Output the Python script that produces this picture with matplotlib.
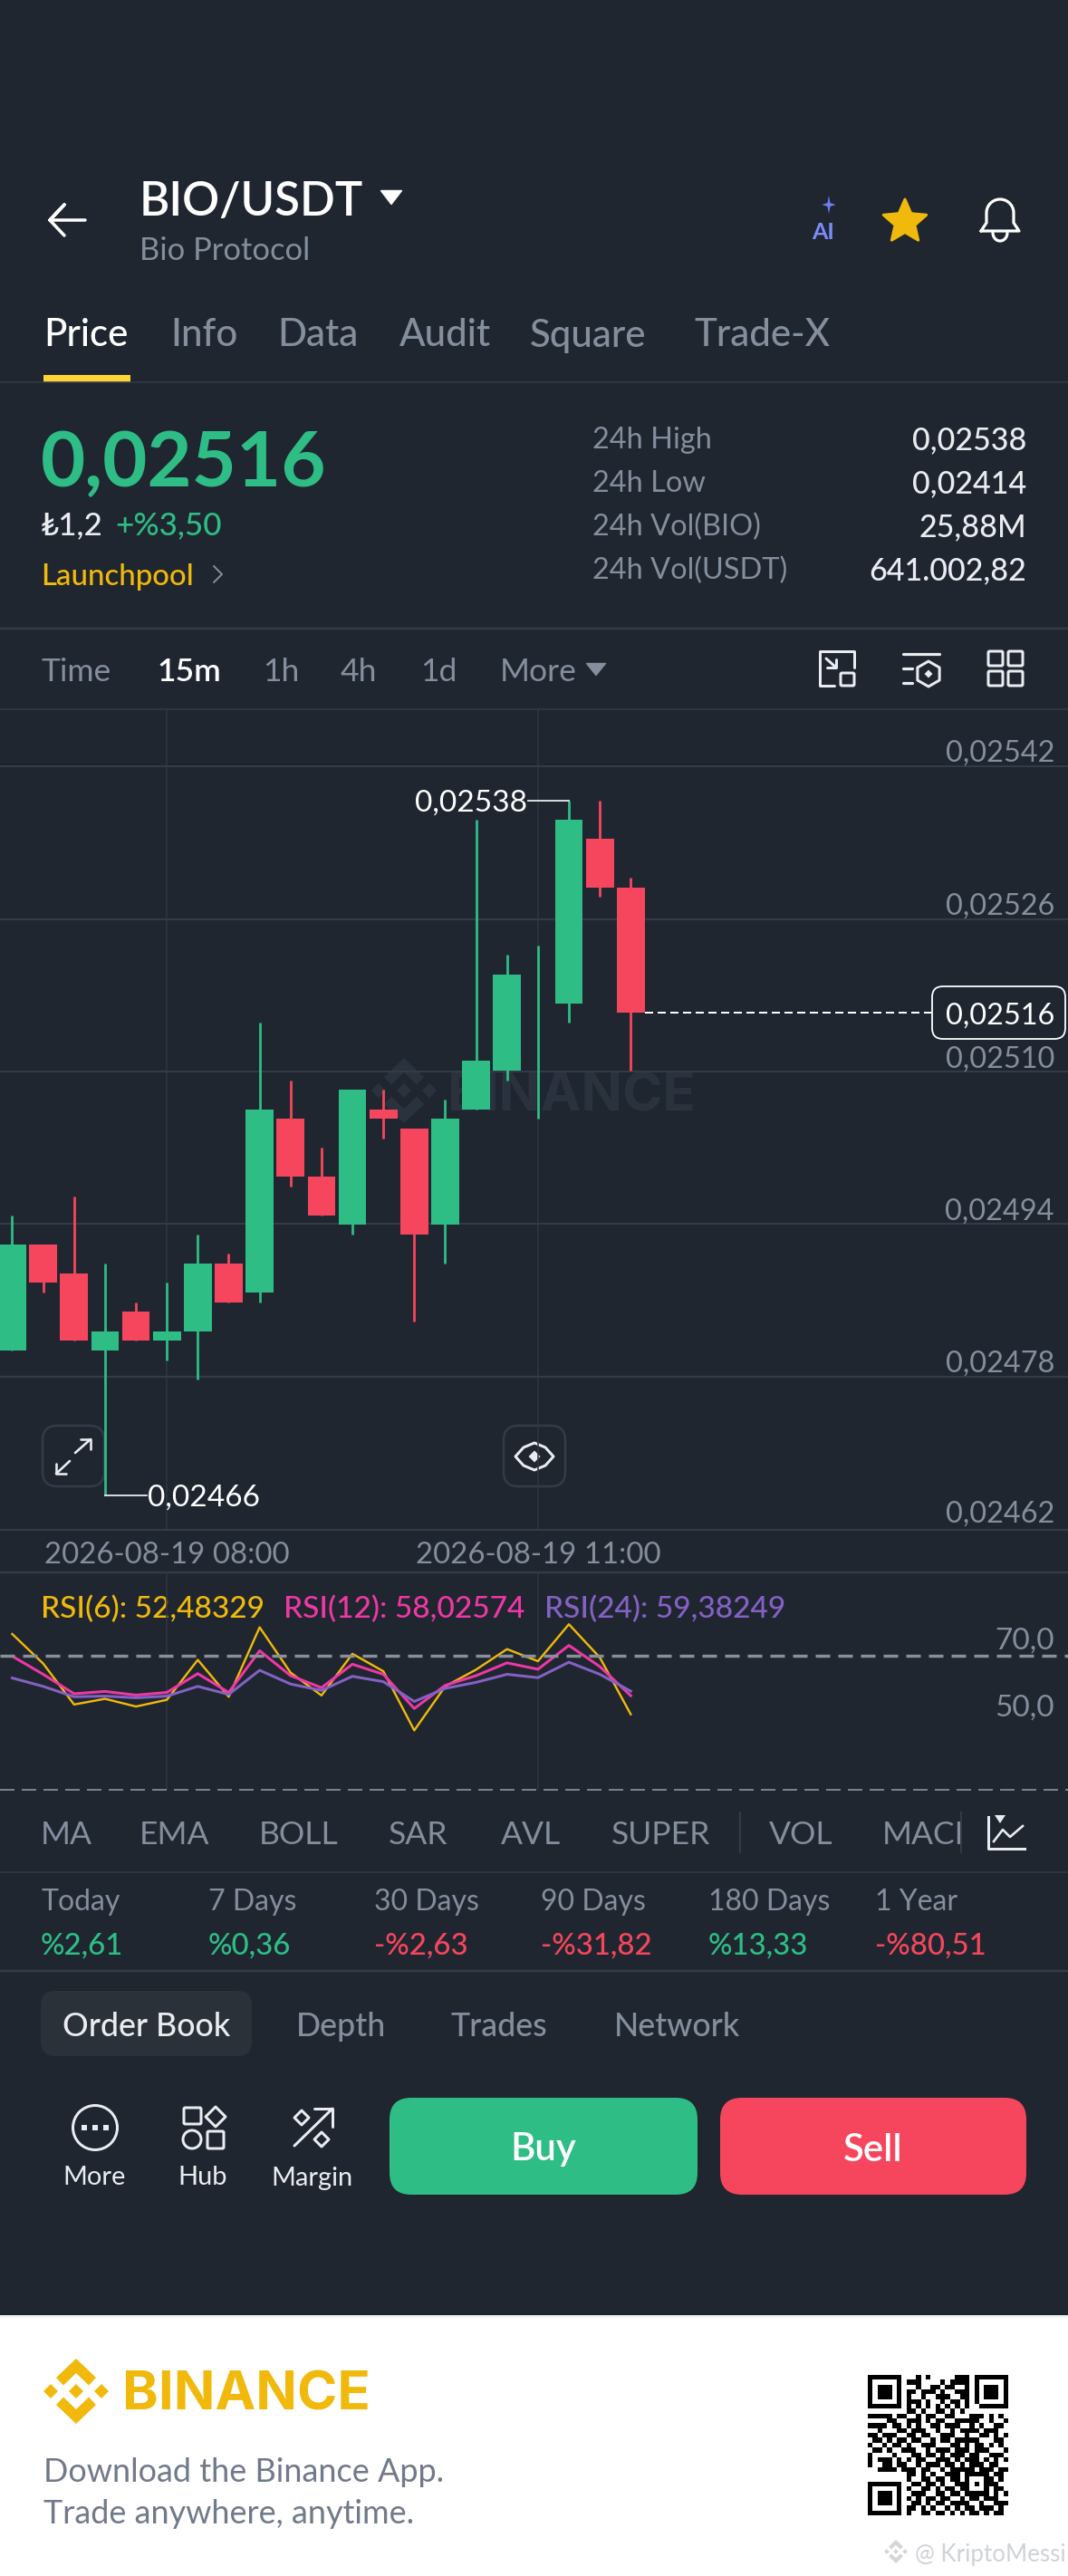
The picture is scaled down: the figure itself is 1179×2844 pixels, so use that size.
#!/usr/bin/env python3
import numpy as np
import matplotlib
matplotlib.use('Agg')
import matplotlib.pyplot as plt
from matplotlib.patches import FancyBboxPatch, Polygon, Circle, Rectangle

plt.rcParams['font.family'] = ['Lato', 'DejaVu Sans']
plt.rcParams['lines.scale_dashes'] = False

W, H = 1179, 2844
BG = '#1F2630'
GREEN = '#2EBD85'
RED = '#F6465D'
GREY = '#848E9C'
LINE = '#333B47'
WHITE = '#EAECEF'
GOLD = '#F0B90B'

# candles, oldest first
opens = [0.02481, 0.02492, 0.02489, 0.02481, 0.02485, 0.02482, 0.02483, 0.02490, 0.02487, 0.02505, 0.02499,
         0.02494, 0.02506, 0.02504, 0.02494, 0.02506, 0.02510, 0.02518, 0.02517, 0.02534, 0.02529]
closes = [0.02492, 0.02488, 0.02482, 0.02483, 0.02482, 0.02483, 0.02490, 0.02486, 0.02506, 0.02499, 0.02495,
          0.02508, 0.02505, 0.02493, 0.02505, 0.02511, 0.02520, 0.02518, 0.02536, 0.02529, 0.02516]
highs = [0.02495, 0.02492, 0.02497, 0.02490, 0.02486, 0.02488, 0.02493, 0.02491, 0.02515, 0.02509, 0.02502,
         0.02508, 0.02508, 0.02504, 0.02507, 0.02536, 0.02522, 0.02523, 0.02538, 0.02538, 0.02530]
lows = [0.02481, 0.02487, 0.02482, 0.02466, 0.02482, 0.02480, 0.02478, 0.02486, 0.02486, 0.02498, 0.02495,
        0.02493, 0.02503, 0.02484, 0.02490, 0.02506, 0.02509, 0.02505, 0.02515, 0.02528, 0.02510]

rsi6 = [76.4, 67.6, 55.4, 57.1, 54.8, 56.8, 68.7, 57.7, 78.4, 64.9, 58.1,
        70.5, 65.3, 47.7, 60.8, 65.8, 71.9, 68.3, 79.3, 69.4, 52.48]
rsi12 = [69.8, 64.4, 58.6, 59.3, 58.2, 59.0, 64.6, 59.0, 71.4, 64.0, 60.4,
         67.4, 64.4, 54.2, 61.1, 64.0, 67.8, 65.9, 73.0, 66.7, 58.03]
rsi24 = [63.3, 60.8, 57.7, 57.9, 57.4, 57.9, 60.8, 58.4, 65.6, 61.5, 59.6,
         63.8, 62.2, 56.3, 60.2, 62.0, 64.4, 63.4, 68.0, 64.4, 59.38]

# the grid sits on unrounded prices, the labels are rounded
price_ticks = [0.0254156, 0.025257, 0.025099, 0.024941, 0.024783, 0.024624]
price_labels = ['0,02542', '0,02526', '0,02510', '0,02494', '0,02478', '0,02462']
time_ticks = [5, 17]
time_labels = ['2026-08-19 08:00', '2026-08-19 11:00']
last_price = 0.02516
rsi_levels = [70, 50]
rsi_level_labels = ['70,0', '50,0']

tabs = ['Price', 'Info', 'Data', 'Audit', 'Square', 'Trade-X']
tab_x = [48, 188, 306, 441, 585, 766]
stat_names = ['24h High', '24h Low', '24h Vol(BIO)', '24h Vol(USDT)']
stat_values = ['0,02538', '0,02414', '25,88M', '641.002,82']
intervals = ['Time', '15m', '1h', '4h', '1d', 'More']
interval_x = [45, 173, 290, 376, 464, 552]
indicators = ['MA', 'EMA', 'BOLL', 'SAR', 'AVL', 'SUPER', 'VOL', 'MACD']
indicator_x = [45, 154, 286, 429, 553, 675, 849, 974]
periods = ['Today', '7 Days', '30 Days', '90 Days', '180 Days', '1 Year']
period_values = ['%2,61', '%0,36', '-%2,63', '-%31,82', '%13,33', '-%80,51']
period_x = [45, 230, 413, 597, 782, 966]
bottom_tabs = ['Order Book', 'Depth', 'Trades', 'Network']
bottom_tab_x = [69, 327, 498, 678]

qr_rows = [
    '11111110001010000011101111111', '10000010111000010111101000001',
    '10111010001001101100101011101', '10111010110111010011101011101',
    '10111010100100111001101011101', '10000010111010010110101000001',
    '11111110101010101010100111111', '00000000110100110101000000000',
    '11111011001011001100011101010', '00001100111010110011111001001',
    '11110110101001101110010100110', '00100011011100100101111011100',
    '11011100110110011100100110101', '01101011011001011011111000110',
    '10010110100111000110101101010', '01101001110010111011101110001',
    '10000100011011010111011001110', '10111010101100111010111010101',
    '10011011001011101101011101100', '00111101110110010111110111011',
    '00000000110101001110111110110', '00000000100110110110100011010',
    '11111110011011010011101011100', '10000010100110101101100010110',
    '10111010011100110110111110101', '10111010101011011001011011100',
    '10111010011010110111100100111', '10000010110101001010110111010',
    '11111110100110110101011010110',
]

fig = plt.figure(figsize=(W / 100, H / 100), dpi=100, facecolor=BG)

ui = fig.add_axes([0, 0, 1, 1], zorder=1)
ui.set_xlim(0, W)
ui.set_ylim(H, 0)
ui.axis('off')


def px(v):
    return v * 0.72


def txt(x, y, s, size, color=GREY, ha='left', weight='normal', **kw):
    return ui.text(x, y, s, fontsize=px(size), color=color, ha=ha, va='center_baseline', weight=weight, **kw)


def hline(y, lw=1.5, color=LINE, x0=0, x1=W):
    ui.plot([x0, x1], [y, y], color=color, lw=px(lw), solid_capstyle='butt')


def stroke(xs, ys, lw=3, color=WHITE):
    ui.plot(xs, ys, color=color, lw=px(lw), solid_capstyle='round', solid_joinstyle='round')


def rbox(x0, y0, x1, y1, r, fc='none', ec='none', lw=0, **kw):
    ui.add_patch(FancyBboxPatch((x0, y0), x1 - x0, y1 - y0, boxstyle=f'round,pad=0,rounding_size={r}',
                                fc=fc, ec=ec, lw=px(lw), **kw))


def diamond(cx, cy, r, fc='none', ec='none', lw=0):
    ui.add_patch(Polygon([(cx, cy - r), (cx + r, cy), (cx, cy + r), (cx - r, cy)], closed=True,
                         fc=fc, ec=ec, lw=px(lw), joinstyle='round'))


def tri(cx, cy, w, h, color):
    ui.add_patch(Polygon([(cx - w / 2, cy - h / 2), (cx + w / 2, cy - h / 2), (cx, cy + h / 2)],
                         closed=True, fc=color, ec=color, lw=1, joinstyle='round'))


def logo(cx, cy, s, color):
    diamond(cx, cy, 8 * s, fc=color)
    diamond(cx - 28 * s, cy, 8 * s, fc=color)
    diamond(cx + 28 * s, cy, 8 * s, fc=color)
    chev = np.array([(0, -36), (22, -15), (14, -6.5), (0, -20), (-14, -6.5), (-22, -15)], float) * s
    for sign in (1, -1):
        pts = chev * [1, sign] + [cx, cy]
        ui.add_patch(Polygon(pts, closed=True, fc=color, ec='none'))


# header
stroke([94, 55, 71, 55, 71], [243, 243, 226, 243, 260], lw=3.5, color='#FFFFFF')
txt(154, 219, 'BIO/USDT', 51, '#FFFFFF', weight=600)
tri(432, 218, 23, 15, '#FFFFFF')
txt(154, 274, 'Bio Protocol', 34.5)

ang = np.arange(8) * np.pi / 4 - np.pi / 2
rad = np.array([10, 2.8] * 4)
ui.add_patch(Polygon(np.c_[915 + rad * np.cos(ang) * 0.75, 226 + rad * np.sin(ang)], closed=True, fc='#6F7CF2'))
txt(909, 255, 'AI', 25, '#7C8CF8', ha='center', weight='bold')

ang = np.arange(10) * np.pi / 5 - np.pi / 2
rad = np.array([25, 11.5] * 5)
ui.add_patch(Polygon(np.c_[999 + rad * np.cos(ang), 245 + rad * np.sin(ang)], closed=True,
                     fc=GOLD, ec=GOLD, lw=px(3), joinstyle='round'))

arc = np.linspace(np.pi, 2 * np.pi, 30)
bx = list(1104 + 15 * np.cos(arc))
by = list(235 + 15 * np.sin(arc))
stroke([1083, 1089] + bx + [1119, 1125, 1083], [255, 246] + by + [246, 255, 255], lw=3.2, color='#FFFFFF')
arc = np.linspace(0, np.pi, 20)
stroke(1104 + 8 * np.cos(arc), 257 + 9 * np.sin(arc), lw=3.2, color='#FFFFFF')

for name, x in zip(tabs, tab_x):
    txt(x, 367, name, 42, '#FFFFFF' if name == 'Price' else GREY, weight=500)
ui.add_patch(Rectangle((48, 414), 96, 8, fc='#FCD535', ec='none'))
hline(422)

# price summary
txt(45, 505, '0,02516', 85, GREEN, weight='bold')
txt(45, 577, '₺1,2', 35, WHITE, weight=500)
txt(127, 577, '+%3,50', 35, GREEN, weight=500)
txt(45, 634, 'Launchpool', 33, GOLD, weight=500)
stroke([236, 245, 236], [625, 634, 643], lw=2, color=GREY)
for name, value, y in zip(stat_names, stat_values, [483, 531, 579, 627]):
    txt(654, y, name, 32.5)
    txt(1133, y, value, 34, WHITE, ha='right', weight=500)
hline(694, lw=2.5)

# interval bar
for name, x in zip(intervals, interval_x):
    txt(x, 739, name, 35.5, '#FFFFFF' if name == '15m' else GREY, weight=600 if name == '15m' else 'normal')
tri(658, 739, 21, 13, GREY)
stroke([943, 943, 905, 905, 921], [737, 719, 719, 757, 757], lw=3)
rbox(928, 743, 943, 757, 1.5, ec=WHITE, lw=3)
stroke([912, 923], [727, 737], lw=3)
stroke([923, 923, 913], [728, 737, 737], lw=3)
stroke([997, 1037], [722, 722], lw=3.2)
stroke([997, 1007], [738, 738], lw=3.2)
stroke([997, 1007], [754, 754], lw=3.2)
ang = np.arange(6) * np.pi / 3 - np.pi / 2
ui.add_patch(Polygon(np.c_[1025 + 14 * np.cos(ang), 744 + 14 * np.sin(ang)], closed=True, fc='none', ec=WHITE,
                     lw=px(3), joinstyle='round'))
diamond(1025, 744, 4.5, fc=WHITE)
for x0 in (1091, 1113):
    for y0 in (719, 741):
        rbox(x0, y0, x0 + 16, y0 + 16, 1.5, ec=WHITE, lw=3)
hline(783)

# watermark goes below the candles
logo(446, 1204, 1.0, '#2A323E')
ui.text(494, 1205, 'BINANCE', fontsize=px(60), color='#2A323E', va='center_baseline', weight='bold',
        family=['Inter', 'DejaVu Sans'])

# buttons over the chart
rbox(47, 1574, 115, 1641, 16, fc=BG, ec=LINE, lw=2.5)
stroke([83, 100], [1604, 1589], lw=2.6)
stroke([89, 100, 100], [1589, 1589, 1600], lw=2.6)
stroke([62, 77], [1627, 1613], lw=2.6)
stroke([62, 62, 73], [1616, 1627, 1627], lw=2.6)
rbox(556, 1574, 624, 1641, 16, fc=BG, ec=LINE, lw=2.5)
ui.add_patch(Polygon([(569, 1608), (578, 1598), (590, 1593), (602, 1598), (611, 1608), (602, 1618), (590, 1623),
                      (578, 1618)], closed=True, fc='none', ec=WHITE, lw=px(3), joinstyle='round'))
diamond(590, 1608, 6.5, fc=WHITE)

hline(1689, lw=2)
hline(1736, lw=2.5)

# price chart
n = len(opens)
xs = np.arange(n)
step = 34.14
xlim = (-13.5 / step, (W - 13.5) / step)
px_per_price = 10.65 / 0.00001

ax = fig.add_axes([0, 1 - 1689 / H, 1, (1689 - 783) / H], zorder=2)
ax.patch.set_alpha(0)
ax.set_xlim(xlim)
ax.set_ylim(price_ticks[-1], price_ticks[-1] + (1689 - 783) / px_per_price)
ax.set_yticks(price_ticks)
ax.set_yticklabels([])
ax.set_xticks(time_ticks)
ax.set_xticklabels(time_labels, fontsize=px(33), color=GREY)
ax.tick_params(length=0, pad=px(13))
ax.grid(axis='y', color=LINE, lw=px(2))
ax.grid(axis='x', color='#2F3641', lw=px(1.6))
ax.set_axisbelow(True)
for s in ax.spines.values():
    s.set_visible(False)

for p, label in zip(price_ticks, price_labels):
    up = 20 if p == price_ticks[-1] else 17
    ax.annotate(label, (1, p), xycoords=ax.get_yaxis_transform(), xytext=(-15, up), textcoords='offset pixels',
                ha='right', va='center_baseline', fontsize=px(32.5), color=GREY, annotation_clip=False)

colors = [GREEN if c >= o else RED for o, c in zip(opens, closes)]
ax.vlines(xs, lows, highs, colors=colors, lw=px(2.8), zorder=3)
bottoms = [min(o, c) for o, c in zip(opens, closes)]
heights = [max(abs(c - o), 0.00000018) for o, c in zip(opens, closes)]
ax.bar(xs, heights, bottom=bottoms, width=0.9, color=colors, lw=0, zorder=4)

# last price marker
ax.plot([xs[-1] + 0.45, 1028 / step - 13.5 / step], [last_price, last_price], color='#FFFFFF', lw=px(2),
        dashes=(px(9), px(5)), zorder=2)
ax.annotate('0,02516', (1, last_price), xycoords=ax.get_yaxis_transform(), xytext=(-15, 0),
            textcoords='offset pixels', ha='right', va='center_baseline', fontsize=px(32.5), color='#FFFFFF', zorder=6)
ax.add_patch(FancyBboxPatch((1029, 1089), 147, 58, boxstyle='round,pad=0,rounding_size=12', fc=BG, ec='#FFFFFF',
                            lw=px(1.8), transform=ui.transData, zorder=5, clip_on=False))

# high / low callouts
imax = int(np.argmax(highs))
imin = int(np.argmin(lows))
ax.plot([xs[imax] - 45 / step, xs[imax]], [max(highs)] * 2, color=WHITE, lw=px(1.8), zorder=3)
ax.annotate('0,02538', (xs[imax] - 45 / step, max(highs)), xytext=(-1, 0), textcoords='offset pixels',
            ha='right', va='center_baseline', fontsize=px(33.5), color='#FFFFFF')
ax.plot([xs[imin], xs[imin] + 46 / step], [min(lows)] * 2, color=WHITE, lw=px(1.8), zorder=3)
ax.annotate('0,02466', (xs[imin] + 46 / step, min(lows)), xytext=(1, 0), textcoords='offset pixels',
            ha='left', va='center_baseline', fontsize=px(33.5), color='#FFFFFF')

# RSI panel
ar = fig.add_axes([0, 1 - 1976 / H, 1, (1976 - 1736) / H], zorder=2)
ar.patch.set_alpha(0)
ar.set_xlim(xlim)
ar.set_ylim(30, 30 + (1976 - 1736) / 3.707)
ar.set_xticks(time_ticks)
ar.set_xticklabels([])
ar.set_yticks([])
ar.tick_params(length=0)
ar.grid(axis='x', color='#2F3641', lw=px(1.6))
ar.set_axisbelow(True)
for s in ar.spines.values():
    s.set_visible(False)
ar.plot(xs, rsi6, color=GOLD, lw=px(2.4))
ar.plot(xs, rsi12, color='#F037A5', lw=px(3))
ar.plot(xs, rsi24, color='#8461C4', lw=px(3))
ar.axhline(70, color='#8A9099', lw=px(3.4), dashes=(px(16), px(9)), zorder=5)
ar.axhline(30, color='#7A818C', lw=px(2), dashes=(px(16), px(8)), clip_on=False)
for v, label in zip(rsi_levels, rsi_level_labels):
    ar.annotate(label, (1, v), xycoords=ar.get_yaxis_transform(), xytext=(-15, 19), textcoords='offset pixels',
                ha='right', va='center_baseline', fontsize=px(33.5), color=GREY)
for x, label, c in zip([45, 313, 601], ['RSI(6): 52,48329', 'RSI(12): 58,02574', 'RSI(24): 59,38249'],
                       [GOLD, '#F037A5', '#8461C4']):
    txt(x, 1774, label, 33.5, c, weight=500)

# indicator row
for name, x in zip(indicators, indicator_x):
    txt(x, 2023, name, 35.5)
ui.add_patch(Rectangle((1061, 1996), 118, 60, fc=BG, ec='none', zorder=3))
ui.plot([817, 817], [2001, 2045], color=LINE, lw=px(2))
ui.plot([1061, 1061], [2001, 2045], color=LINE, lw=px(2), zorder=4)
ui.plot([1091, 1091, 1131], [2006, 2041, 2041], color=WHITE, lw=px(3), zorder=5)
ui.plot([1097, 1107, 1115, 1129], [2033, 2020, 2028, 2016], color=WHITE, lw=px(2.6), zorder=5)
ui.add_patch(Polygon([(1098, 2004), (1110, 2004), (1104, 2013)], closed=True, fc=WHITE, zorder=5))
hline(2067)

# performance row
for name, value, x in zip(periods, period_values, period_x):
    txt(x, 2097, name, 32)
    txt(x, 2145, value, 33, RED if value.startswith('-') else GREEN, weight=500)
hline(2176, lw=2.5)

# bottom tabs
rbox(45, 2198, 278, 2270, 16, fc='#2B3139')
for name, x in zip(bottom_tabs, bottom_tab_x):
    txt(x, 2234, name, 35.8, WHITE if name == 'Order Book' else GREY, weight=500)

# action icons
ui.add_patch(Circle((105, 2349), 24.5, fc='none', ec=WHITE, lw=px(3)))
for x in (93, 105, 117):
    ui.add_patch(Rectangle((x - 3, 2346), 6, 6, fc=WHITE, ec='none'))
rbox(203, 2327, 222, 2345, 1.5, ec=WHITE, lw=3)
diamond(238, 2337, 11, ec=WHITE, lw=3)
ui.add_patch(Circle((212, 2362), 10, fc='none', ec=WHITE, lw=px(3)))
rbox(229, 2353, 247, 2372, 1.5, ec=WHITE, lw=3)
stroke([325, 367], [2369, 2328], lw=3)
stroke([347, 367, 367], [2328, 2328, 2348], lw=3)
diamond(333, 2338, 8, ec=WHITE, lw=3)
diamond(355, 2362, 8, ec=WHITE, lw=3)
for name, x in zip(['More', 'Hub', 'Margin'], [104, 224, 344]):
    txt(x, 2402, name, 29, WHITE, ha='center')

rbox(430, 2316, 770, 2423, 24, fc=GREEN)
rbox(795, 2316, 1133, 2423, 24, fc=RED)
txt(600, 2370, 'Buy', 42, '#FFFFFF', ha='center', weight=600)
txt(964, 2370, 'Sell', 42, '#FFFFFF', ha='center', weight=600)

# footer
ui.add_patch(Rectangle((0, 2556), W, H - 2556, fc='#FFFFFF', ec='none'))
ui.add_patch(Rectangle((0, 2556), W, 3, fc='#EEF0F2', ec='none'))
logo(84, 2640, 1.0, GOLD)
ui.text(135, 2639, 'BINANCE', fontsize=px(60), color=GOLD, va='center_baseline', weight='bold',
        family=['Inter', 'DejaVu Sans'])
txt(48, 2726, 'Download the Binance App.', 36, '#707A8A')
txt(48, 2773, 'Trade anywhere, anytime.', 36, '#707A8A')

qr = np.array([[int(c) for c in row] for row in qr_rows])
ui.imshow(1 - qr, cmap='gray', vmin=0, vmax=1, extent=(957.5, 1112.5, 2777, 2622), interpolation='nearest',
          aspect='auto', zorder=2)
ui.set_xlim(0, W)
ui.set_ylim(H, 0)

logo(989, 2817, 0.36, '#D4D6D9')
txt(1010, 2818, '@ KriptoMessi', 26, '#CFD2D6')

fig.savefig('out.png', dpi=100, facecolor=BG)
